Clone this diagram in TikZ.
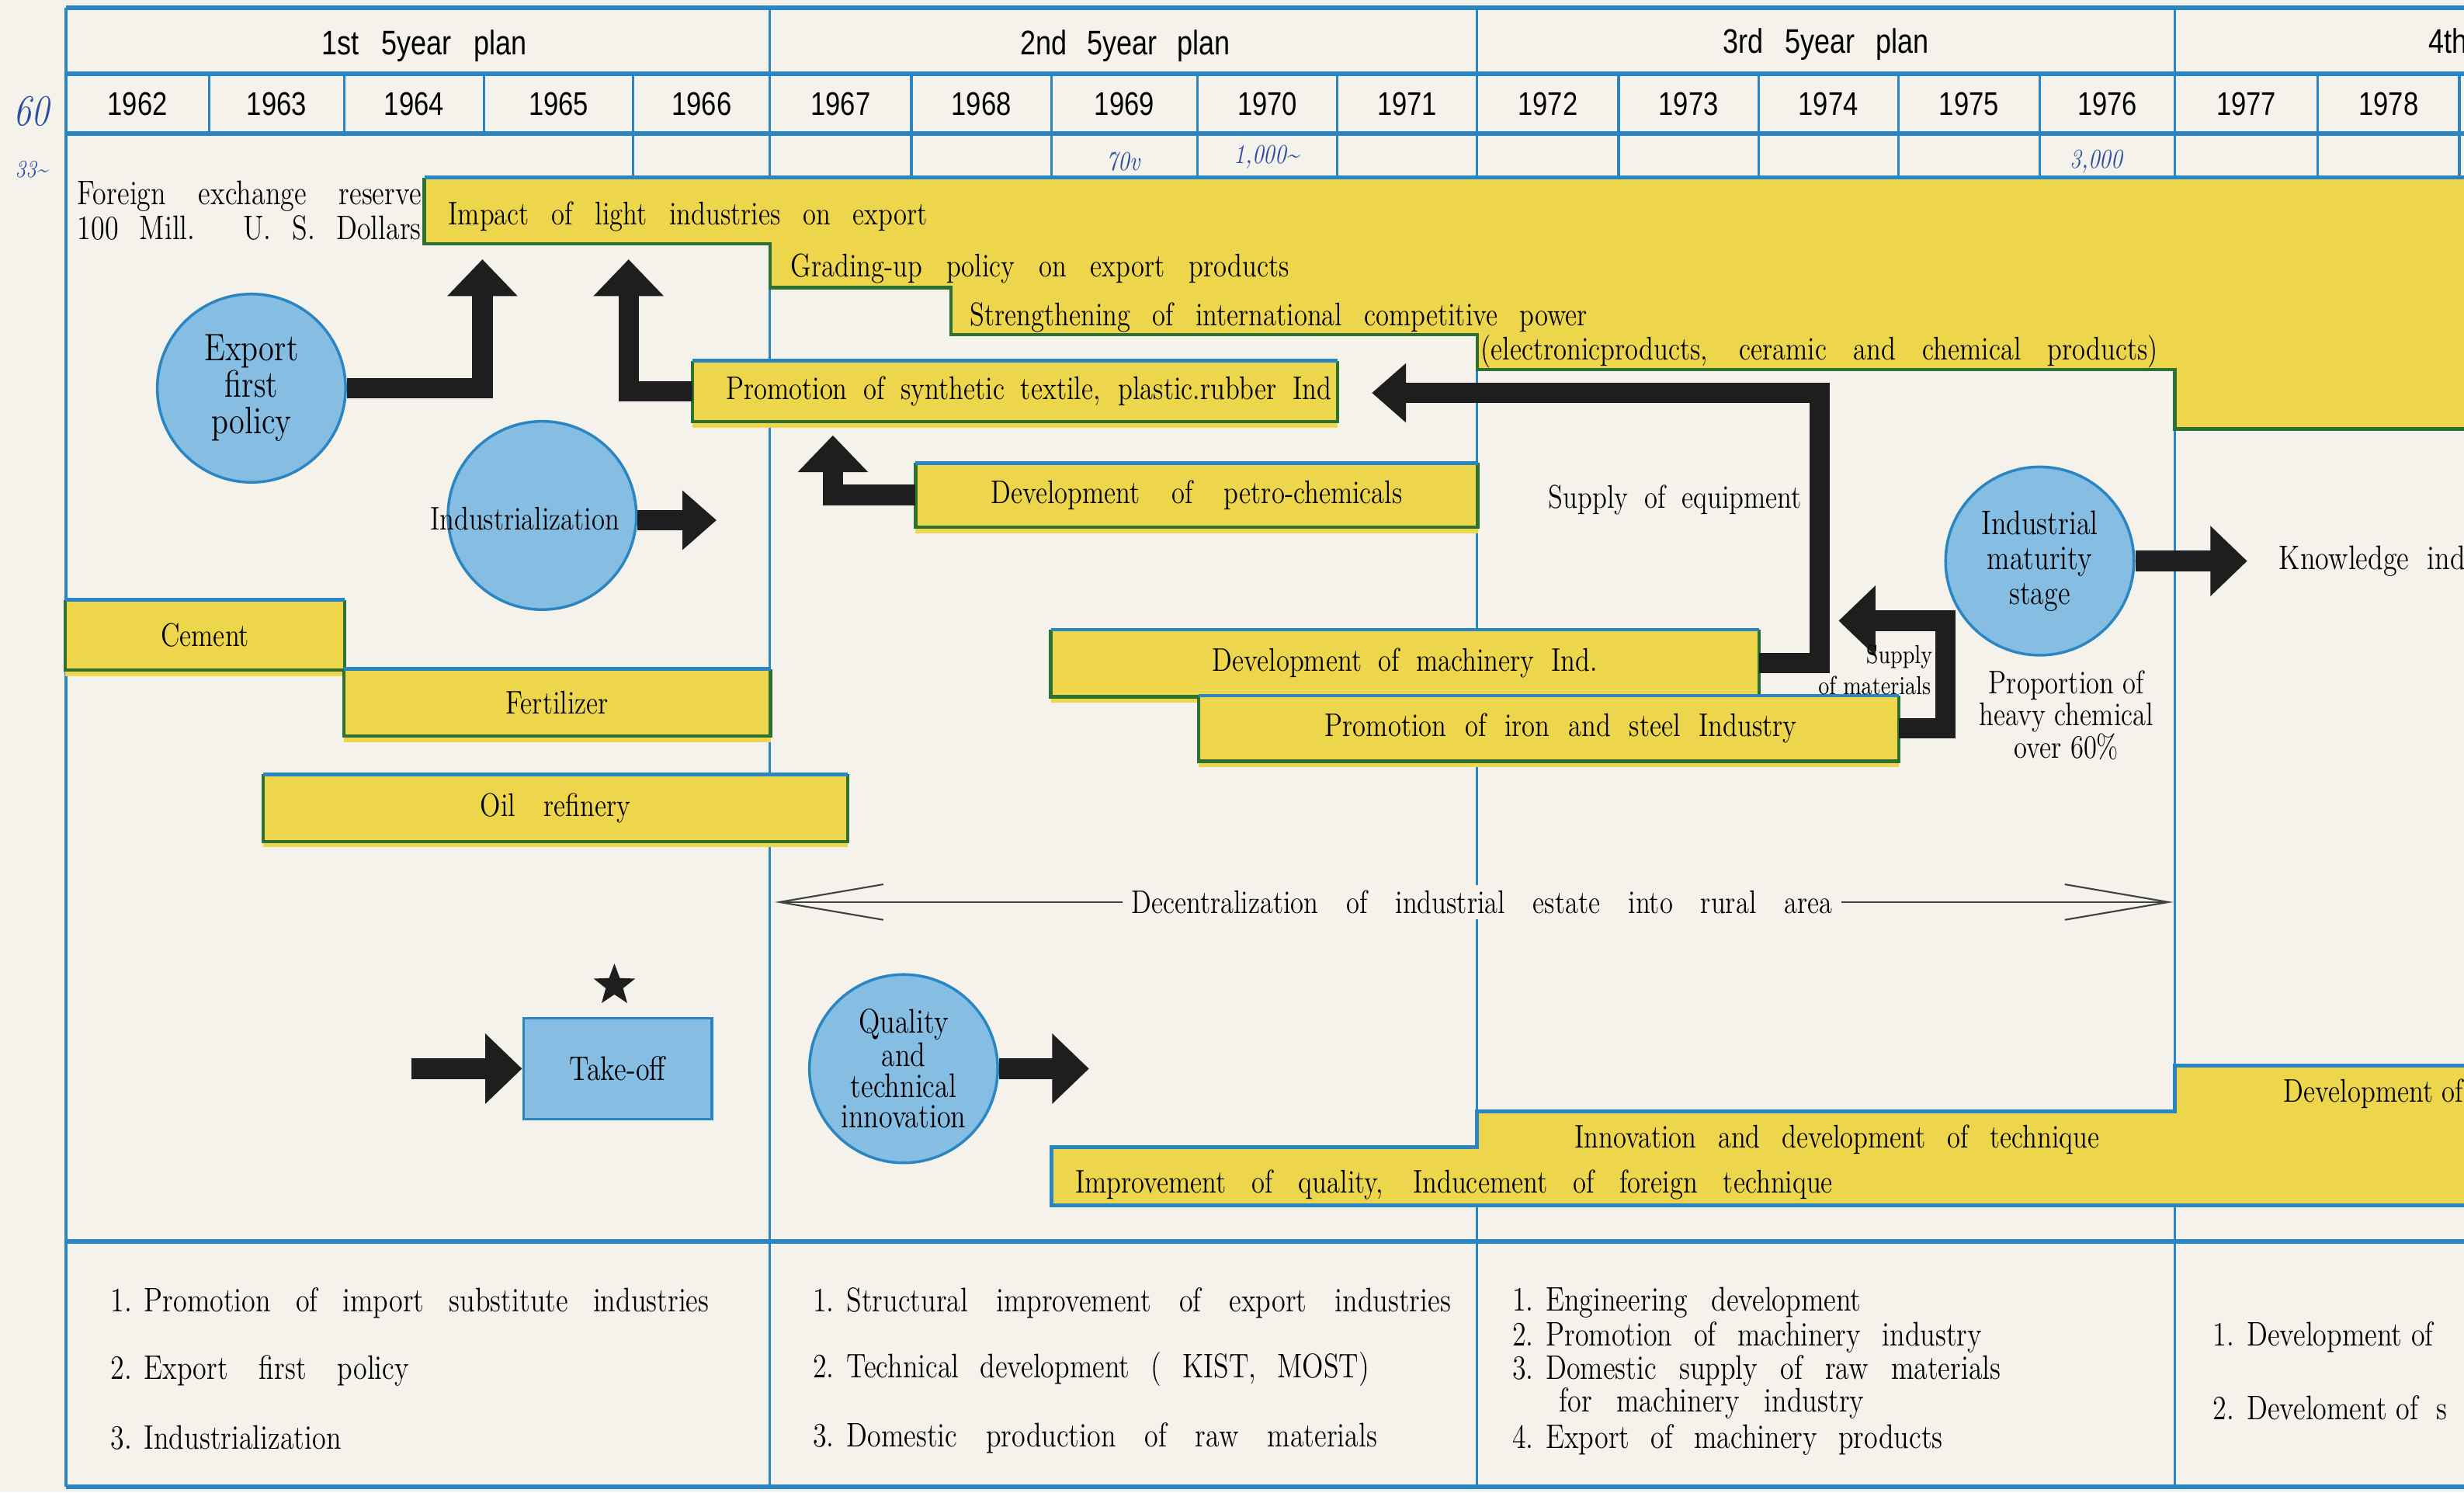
\documentclass[tikz,border=0pt]{standalone}
\usepackage{fontspec}
\setmainfont{Latin Modern Roman}[FakeStretch=0.82]
\newfontfamily\hdr[FakeStretch=0.82]{Liberation Sans}
\usetikzlibrary{arrows.meta,shapes.geometric,fit}
\definecolor{paper}{HTML}{F4F2EB}
\definecolor{gblue}{HTML}{2A86C2}
\definecolor{ylw}{HTML}{EED64C}
\definecolor{grn}{HTML}{2E7030}
\definecolor{cblue}{HTML}{86BDE2}
\definecolor{ink}{HTML}{1E1E1E}
\definecolor{pen}{HTML}{2B4FA0}
\newcommand\sw[2]{\makebox[#1][s]{#2}}
\newcommand\nsp{\hspace{4.5pt}}
\newcommand\ybar[4]{%
  \node[ybox, fit={#2 #3}] (#1) {};
  \fill[ylw] (#1.south west) rectangle ([yshift=-2.2pt]#1.south east);
  \draw[gedge] (#1.north west) -- (#1.south west) -- (#1.south east) -- (#1.north east);
  \draw[bedge] (#1.north west) -- (#1.north east);
  \node[lab] (#1t) at (#1.center) {#4};
}
\begin{document}
\begin{tikzpicture}[x=0.202423mm, y=-0.202423mm,
  hline/.style={gblue, line width=1.6pt},
  vline/.style={gblue, line width=0.9pt},
  ybox/.style={fill=ylw, inner sep=0pt},
  gedge/.style={grn, line width=1.2pt},
  bedge/.style={gblue, line width=1.4pt},
  disc/.style={circle, fill=cblue, draw=gblue, line width=1pt, minimum size=69pt, inner sep=-4pt, align=center},
  bigarrow/.style={ink, line width=7.5pt, line join=miter, -{Triangle[width=25pt,length=13.5pt]}},
  smallarrow/.style={ink, line width=7.5pt, line join=miter, -{Triangle[width=21pt,length=12.5pt]}},
  decarrow/.style={black!75, line width=0.6pt, -{Straight Barb[length=38pt,width=13pt]}},
  lab/.style={font=\fontsize{12}{14}\selectfont, inner sep=0pt},
  blab/.style={font=\fontsize{12.5}{14.5}\selectfont, inner sep=0pt, anchor=west},
  yr/.style={font=\hdr\fontsize{12}{14}\selectfont, inner sep=0pt},
  plan/.style={font=\hdr\fontsize{12.5}{14}\selectfont, inner sep=0pt},
  hand/.style={font=\itshape\fontsize{10}{12}\selectfont, text=pen, inner sep=0pt}
]
\useasboundingbox (0,0) rectangle (1568,949.5);
\fill[paper] (0,0) rectangle (1568,949.5);
\clip (0,0) rectangle (1568,949.5);

% ---- grid ----
\foreach \yy in {5,47,85,790,946} \draw[hline] (42,\yy) -- (1575,\yy);
\draw[vline] (42,5) -- (42,946);
\foreach \xx in {490,940,1384} \draw[vline] (\xx,5) -- (\xx,946);
\foreach \xx in {133,219,308,403,580,669,762,851,1030,1119,1208,1298,1475,1565} \draw[vline] (\xx,47) -- (\xx,85);
\foreach \xx in {403,580,669,762,851,1030,1119,1208,1298,1475,1565} \draw[vline] (\xx,85) -- (\xx,113);

% ---- headers ----
\node[plan] (p1) at (270,29) {\sw{75pt}{1st 5year plan}};
\node[plan] (p2) at (716,29) {\sw{77pt}{2nd 5year plan}};
\node[plan] (p3) at (1162,28) {\sw{75.5pt}{3rd 5year plan}};
\node[plan, anchor=west] (p4) at (1545,28) {\sw{76pt}{4th 5year plan}};
\foreach \yv/\xc in {1962/87.5,1963/176,1964/263.5,1965/355.5,1966/446.5,1967/535,1968/624.5,1969/715.5,1970/806.5,1971/895.5,1972/985,1973/1074.5,1974/1163.5,1975/1253,1976/1341,1977/1429.5,1978/1520}
  \node[yr] (y\yv) at (\xc,66) {\yv};

% ---- handwriting ----
\node[hand, font=\itshape\fontsize{16}{18}\selectfont] (h60) at (20,71) {60};
\node[hand, font=\itshape\fontsize{9}{10}\selectfont] (h33) at (20,108) {33\textasciitilde};
\node[hand] (h69) at (715,103) {70v};
\node[hand] (h70) at (806,100) {1,000\textasciitilde};
\node[hand] (h76) at (1334,103) {3,000};

% ---- top yellow staircase ----
\fill[ylw] (270,113) -- (1575,113) -- (1575,273) -- (1384,273) -- (1384,235) -- (940,235) -- (940,213) -- (605,213) -- (605,183) -- (490,183) -- (490,155) -- (270,155) -- cycle;
\draw[gedge] (270,113) -- (270,155) -- (490,155) -- (490,183) -- (605,183) -- (605,213) -- (940,213) -- (940,235) -- (1384,235) -- (1384,273) -- (1575,273);
\draw[bedge] (270,113) -- (1575,113);
\node[lab, anchor=west] (t1) at (285,138) {\sw{175.6pt}{Impact of light industries on export}};
\node[lab, anchor=west] (t2) at (503,171) {\sw{182.6pt}{Grading-up policy on export products}};
\node[lab, anchor=west] (t3) at (617,202) {\sw{226.3pt}{Strengthening of international competitive power}};
\node[lab, anchor=west] (t4) at (942,224) {\sw{248.2pt}{(electronicproducts, ceramic and chemical products)}};

\node[lab, anchor=west, align=left, font=\fontsize{12.5}{12.7}\selectfont] (fx) at (49,134)
  {\sw{126pt}{Foreign exchange reserve}\\\sw{126pt}{100 Mill. U. S. Dollars}};

% ---- bars ----
\ybar{promo}{(441,230)}{(851,268)}{\hspace*{10pt}\sw{222pt}{Promotion of synthetic textile, plastic.rubber Ind}}
\ybar{petro}{(583,295)}{(940,335)}{\sw{150.9pt}{Development of petro-chemicals}}
\ybar{cement}{(42,382)}{(219,426)}{Cement}
\ybar{fert}{(219,426)}{(490,468)}{Fertilizer}
\ybar{oil}{(168,493)}{(539,535)}{\sw{55pt}{Oil refinery}}
\ybar{mach}{(669,401)}{(1119,443)}{\sw{141pt}{Development of machinery Ind.}}
\ybar{iron}{(763,443)}{(1208,484)}{\hspace*{9pt}\sw{173pt}{Promotion of iron and steel Industry}}

% ---- circles ----
\node[disc, font=\fontsize{14}{13.4}\selectfont] (exp) at (160,247) {Export\\first\\policy};
\node[disc] (ind) at (345,328) {};
\node[lab] (indt) at (334,330) {Industrialization};
\node[disc, font=\fontsize{12.5}{12.7}\selectfont] (mat) at (1298,357) {Industrial\\maturity\\stage};
\node[disc, font=\fontsize{12.5}{11.2}\selectfont] (qual) at (575,680) {Quality\\and\\technical\\innovation};
\node[fill=cblue, draw=gblue, line width=1pt, minimum width=69pt, minimum height=36.9pt, font=\fontsize{12.5}{14}\selectfont] (take) at (393,680) {Take-off};
\node[star, star points=5, star point ratio=2.4, fill=ink, inner sep=0pt, minimum size=16pt] (star) at (391,627) {};

% ---- arrows ----
\coordinate (a1) at (307,165);
\draw[bigarrow] (exp.east) -| (a1);
\coordinate (a2) at (400,165);
\draw[bigarrow] (promo.west) -| (a2);
\coordinate (a3) at (456,331);
\draw[smallarrow] (ind.east |- a3) -- (a3);
\coordinate (a4) at (530,277);
\draw[bigarrow] (petro.west) -| (a4);
\coordinate (c5) at (1158,250);
\coordinate (a5) at (873,250);
\draw[smallarrow] (mach.east) -| (c5) -- (a5);
\coordinate (c6) at (1238,395);
\coordinate (a6) at (1170,395);
\draw[bigarrow] (iron.east) -| (c6) -- (a6);
\coordinate (a7) at (1430,357);
\draw[bigarrow] (mat.east) -- (a7);
\coordinate (a8) at (262,680);
\draw[bigarrow] (a8) -- (take.west);
\coordinate (a9) at (693,680);
\draw[bigarrow] (qual.east) -- (a9);

% ---- free labels ----
\node[lab] (equip) at (1066,318) {\sw{92.7pt}{Supply of equipment}};
\node[lab, font=\fontsize{9.5}{10}\selectfont, anchor=east] (sup1) at (1230,418) {Supply};
\node[lab, font=\fontsize{9.5}{10}\selectfont, anchor=east] (sup2) at (1229,436) {of materials};
\node[lab, align=center, font=\fontsize{12}{11.8}\selectfont] (prop) at (1315,455) {Proportion of\\heavy chemical\\over 60\%};
\node[lab, anchor=west, font=\fontsize{12.5}{14}\selectfont] (know) at (1450,357) {Knowledge\ \ industry};

% ---- decentralization ----
\node[lab, fill=paper, inner xsep=3pt, inner ysep=2pt] (dec) at (943,574) {\sw{257pt}{Decentralization of industrial estate into rural area}};
\coordinate (dL) at (493,574);
\coordinate (dR) at (1383,574);
\draw[decarrow] (dec.west) -- (dL);
\draw[decarrow] (dec.east) -- (dR);

% ---- bottom yellow staircase ----
\fill[ylw] (669,730) -- (940,730) -- (940,707) -- (1384,707) -- (1384,678) -- (1575,678) -- (1575,767) -- (669,767) -- cycle;
\draw[bedge] (1575,678) -- (1384,678) -- (1384,707) -- (940,707) -- (940,730) -- (669,730) -- (669,767) -- (1575,767);
\node[lab, anchor=west] (imq) at (684,754) {\sw{277.6pt}{Improvement of quality, Inducement of foreign technique}};
\node[lab] (inn) at (1169,725) {\sw{192.4pt}{Innovation and development of technique}};
\node[lab, anchor=west] (devo) at (1453,696) {Development of};

% ---- bottom lists ----
\node[blab] (b11) at (70,829) {\sw{219.4pt}{1.\nsp Promotion of import substitute industries}};
\node[blab] (b12) at (70,872) {\sw{109.4pt}{2.\nsp Export first policy}};
\node[blab] (b13) at (70,915) {\sw{91pt}{3.\nsp Industrialization}};
\node[blab] (b21) at (517,829) {\sw{233.8pt}{1.\nsp Structural improvement of export industries}};
\node[blab] (b22) at (517,871) {\sw{203.9pt}{2.\nsp Technical development ( KIST, MOST)}};
\node[blab] (b23) at (517,915) {\sw{206.8pt}{3.\nsp Domestic production of raw materials}};
\node[blab] (b31) at (962,829) {\sw{127.9pt}{1.\nsp Engineering development}};
\node[blab] (b32) at (962,851) {\sw{172.2pt}{2.\nsp Promotion of machinery industry}};
\node[blab] (b33) at (962,872) {\sw{179.1pt}{3.\nsp Domestic supply of raw materials}};
\node[blab] (b34) at (992,893) {\sw{111.7pt}{for machinery industry}};
\node[blab] (b35) at (962,916) {\sw{157.8pt}{4.\nsp Export of machinery products}};
\node[blab] (b41) at (1408,851) {1.\nsp Development of};
\node[blab] (b42) at (1408,896) {2.\nsp Develoment of\ \ s};
\end{tikzpicture}
\end{document}
